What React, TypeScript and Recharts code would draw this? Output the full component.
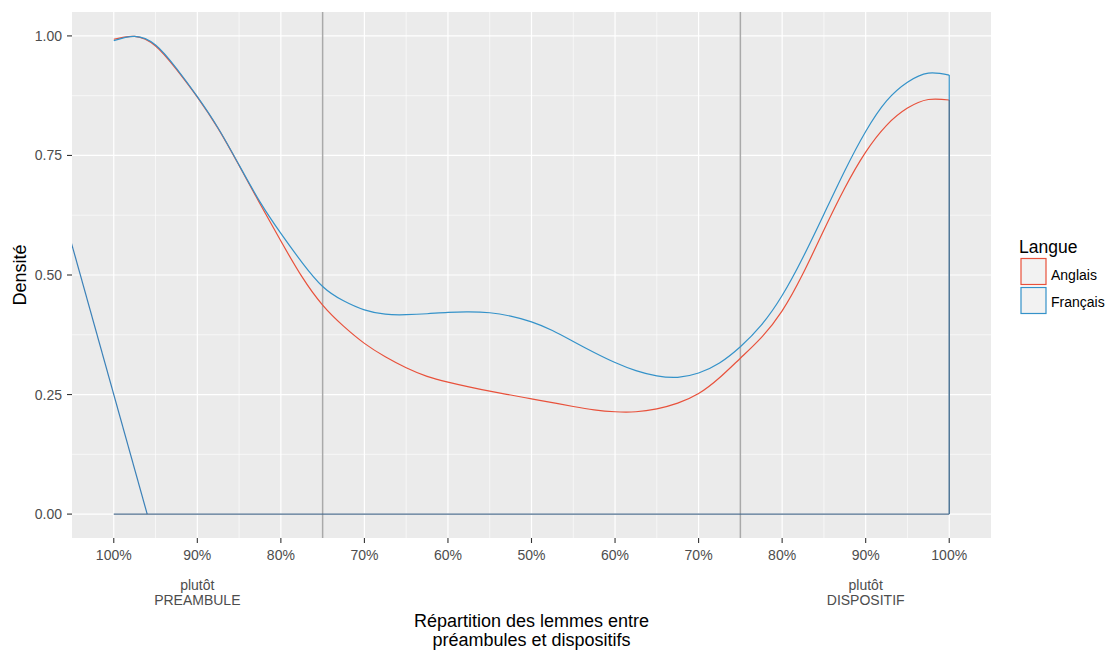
import React from "react";
import { ComposedChart, Line, XAxis, YAxis, CartesianGrid, ReferenceLine } from "recharts";

// positions along the x axis (0 = 100% préambule, 1 = 100% dispositif)
const xs = [
  0, 0.025, 0.05, 0.075, 0.1, 0.125, 0.15, 0.175, 0.2, 0.225, 0.25, 0.275, 0.3, 0.325, 0.35, 0.375, 0.4, 0.425, 0.45,
  0.475, 0.5, 0.525, 0.55, 0.575, 0.6, 0.625, 0.65, 0.675, 0.7, 0.725, 0.75, 0.775, 0.8, 0.825, 0.85, 0.875, 0.9,
  0.925, 0.95, 0.975, 1,
];
const anglais = [
  0.993, 0.999, 0.979, 0.93, 0.872, 0.806, 0.729, 0.649, 0.571, 0.497, 0.437, 0.393, 0.357, 0.329, 0.306, 0.288,
  0.276, 0.266, 0.257, 0.249, 0.241, 0.233, 0.225, 0.218, 0.214, 0.214, 0.22, 0.232, 0.252, 0.285, 0.326, 0.369,
  0.425, 0.503, 0.594, 0.682, 0.757, 0.813, 0.849, 0.867, 0.866,
];
const francais = [
  0.99, 0.999, 0.981, 0.932, 0.873, 0.807, 0.73, 0.653, 0.587, 0.527, 0.476, 0.446, 0.427, 0.418, 0.417, 0.419,
  0.422, 0.423, 0.421, 0.414, 0.402, 0.384, 0.361, 0.338, 0.317, 0.3, 0.289, 0.286, 0.295, 0.316, 0.35, 0.395,
  0.457, 0.537, 0.627, 0.718, 0.8, 0.864, 0.903, 0.922, 0.918,
];

// outline closing segments of the density polygons
const dropX = [1, 1];
const francaisDropY = [0.918, 0.866];
const mixedDropY = [0.866, 0];
const baseX = [0, 1];
const baseY = [0, 0];
const artefactX = [-0.07, 0.04];
const artefactY = [0.6875, 0];

const xTicks = [0, 0.1, 0.2, 0.3, 0.4, 0.5, 0.6, 0.7, 0.8, 0.9, 1];
const xTickLabels = ["100%", "90%", "80%", "70%", "60%", "50%", "60%", "70%", "80%", "90%", "100%"];
const xMinor = [0.05, 0.15, 0.25, 0.35, 0.45, 0.55, 0.65, 0.75, 0.85, 0.95];
const yTicks = [0, 0.25, 0.5, 0.75, 1];
const yMinor = [0.125, 0.375, 0.625, 0.875];
const separators = [0.25, 0.75];
const notePos = [0.1, 0.9];
const noteText = [
  ["plutôt", "PREAMBULE"],
  ["plutôt", "DISPOSITIF"],
];

const RED = "#E8513B";
const BLUE = "#3492C9";
const FONT = "'Liberation Sans', Arial, sans-serif";

const rows = xs.map((x, i) => ({ x, anglais: anglais[i], francais: francais[i] }));
const pairs = (a: number[], b: number[]) => a.map((x, i) => ({ x, y: b[i] }));

function XTick(props: any) {
  const { x, y, payload } = props;
  const i = xTicks.findIndex((t) => Math.abs(t - payload.value) < 1e-9);
  const n = notePos.findIndex((t) => Math.abs(t - payload.value) < 1e-9);
  return (
    <g>
      <text x={x} y={y} dy="0.71em" textAnchor="middle" fill="#4D4D4D" fontSize={14} fontFamily={FONT}>
        {xTickLabels[i]}
      </text>
      {n >= 0 && (
        <text textAnchor="middle" fill="#4D4D4D" fontSize={14} fontFamily={FONT}>
          <tspan x={x} y={y + 40}>{noteText[n][0]}</tspan>
          <tspan x={x} y={y + 55}>{noteText[n][1]}</tspan>
        </text>
      )}
    </g>
  );
}

export default function App() {
  return (
    <div style={{ position: "fixed", left: 0, top: 0, width: 1108, height: 650, background: "#fff" }}>
      <ComposedChart width={1108} height={650} data={rows} margin={{ top: 12, right: 117, bottom: 0, left: 0 }}>
        <CartesianGrid fill="#EBEBEB" stroke="#FFFFFF" strokeWidth={0.6} verticalValues={xMinor} horizontalValues={yMinor} />
        <CartesianGrid stroke="#FFFFFF" strokeWidth={1.2} verticalValues={xTicks} horizontalValues={yTicks} />
        <XAxis
          dataKey="x"
          type="number"
          domain={[-0.05, 1.05]}
          allowDataOverflow
          ticks={xTicks}
          height={112}
          axisLine={false}
          tickSize={5}
          tickMargin={7}
          tickLine={{ stroke: "#333333", strokeWidth: 1.1 }}
          tick={<XTick />}
          label={{
            content: (p: any) => {
              const vb = p.viewBox || { x: 72, y: 538, width: 919 };
              const cx = vb.x + vb.width / 2;
              return (
                <text textAnchor="middle" fill="#000" fontSize={18} fontFamily={FONT}>
                  <tspan x={cx} y={vb.y + 89}>Répartition des lemmes entre</tspan>
                  <tspan x={cx} y={vb.y + 108}>préambules et dispositifs</tspan>
                </text>
              );
            },
          }}
        />
        <YAxis
          type="number"
          domain={[-0.05, 1.05]}
          allowDataOverflow
          ticks={yTicks}
          width={72}
          axisLine={false}
          tickSize={5}
          tickMargin={5}
          tickLine={{ stroke: "#333333", strokeWidth: 1.1 }}
          tick={{ fill: "#4D4D4D", fontSize: 14, fontFamily: FONT }}
          tickFormatter={(v: number) => v.toFixed(2)}
          label={{
            content: (p: any) => {
              const vb = p.viewBox || { x: 0, y: 12, height: 526 };
              const cy = vb.y + vb.height / 2;
              return (
                <text x={26} y={cy} transform={`rotate(-90, 26, ${cy})`} textAnchor="middle" fill="#000" fontSize={18} fontFamily={FONT}>
                  Densité
                </text>
              );
            },
          }}
        />
        {separators.map((s) => (
          <ReferenceLine key={s} x={s} stroke="#A9A9A9" strokeWidth={1.5} />
        ))}
        <Line data={pairs(artefactX, artefactY)} dataKey="y" stroke="#3A80B8" strokeWidth={1.2} dot={false} activeDot={false} isAnimationActive={false} />
        <Line data={pairs(baseX, baseY)} dataKey="y" stroke="#4E6E8E" strokeWidth={1.2} dot={false} activeDot={false} isAnimationActive={false} />
        <Line dataKey="anglais" type="natural" stroke={RED} strokeWidth={1.2} dot={false} activeDot={false} isAnimationActive={false} />
        <Line dataKey="francais" type="natural" stroke={BLUE} strokeWidth={1.2} dot={false} activeDot={false} isAnimationActive={false} />
        <Line data={pairs(dropX, francaisDropY)} dataKey="y" stroke={BLUE} strokeWidth={1.2} dot={false} activeDot={false} isAnimationActive={false} />
        <Line data={pairs(dropX, mixedDropY)} dataKey="y" stroke="#4E7596" strokeWidth={1.5} dot={false} activeDot={false} isAnimationActive={false} />
      </ComposedChart>
      <svg width={98} height={100} style={{ position: "absolute", left: 1010, top: 230 }}>
        <text x={9} y={23} fontSize={17.5} fontFamily={FONT} fill="#000">Langue</text>
        <rect x={11} y={28.5} width={25} height={26} fill="#F2F2F2" stroke={RED} strokeWidth={1.2} />
        <text x={41} y={49.5} fontSize={14} fontFamily={FONT} fill="#000">Anglais</text>
        <rect x={11} y={57.5} width={25} height={26} fill="#F2F2F2" stroke={BLUE} strokeWidth={1.2} />
        <text x={41} y={77} fontSize={14} fontFamily={FONT} fill="#000">Français</text>
      </svg>
    </div>
  );
}
